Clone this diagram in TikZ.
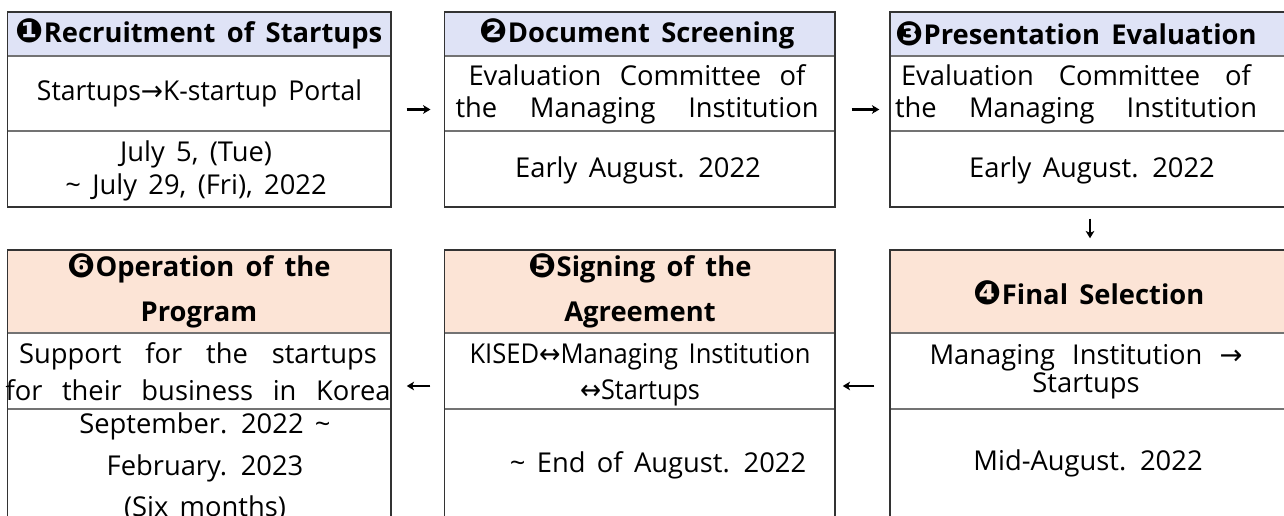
\documentclass[tikz,border=0pt]{standalone}
\usepackage{fontspec}
\usepackage{graphicx}
\setmainfont{Open Sans}[WordSpace=1.6]
\newfontfamily\sym{DejaVu Sans}
\usetikzlibrary{arrows.meta,fit}
\newdimen\pxu \pxu=0.75pt
\newcommand\fitl[2]{\resizebox{#1\pxu}{\height}{#2}}
\newcommand\jst[2]{\makebox[#1\pxu][s]{#2}}
\newcommand\cnum[1]{\raisebox{-0.5pt}{\sym\fontsize{25}{25}\selectfont #1}}
\definecolor{hdrblue}{HTML}{DFE3F6}
\definecolor{hdrpeach}{HTML}{FCE4D6}
\tikzset{
  frame/.style={draw=black!80, line width=1.1pt, inner sep=0pt},
  divider/.style={draw=black!55, line width=1pt},
  txt/.style={align=center, inner sep=0pt, font=\fontsize{20.5}{25}\selectfont},
  htxt/.style={align=center, inner sep=0pt, font=\fontsize{20.5}{25}\selectfont\bfseries},
  flow/.style={-{Stealth[length=5.5pt,width=6.5pt,inset=1.5pt]}, line width=1.6pt},
}
\begin{document}
\begin{tikzpicture}[x=0.75pt,y=-0.75pt]
\useasboundingbox (0,0) rectangle (1284,516);
\clip (0,0) rectangle (1284,516);
% header fills
\fill[hdrblue] (7.5,12) rectangle (391,56);
\fill[hdrblue] (444.5,12) rectangle (835,56);
\fill[hdrblue] (890,12) rectangle (1290,56);
\fill[hdrpeach] (7.5,250) rectangle (391,333);
\fill[hdrpeach] (444.5,250) rectangle (835,333);
\fill[hdrpeach] (890,250) rectangle (1290,333);
% dividers
\draw[divider] (7.5,56) -- (391,56) (7.5,131) -- (391,131);
\draw[divider] (444.5,56) -- (835,56) (444.5,131) -- (835,131);
\draw[divider] (890,56) -- (1290,56) (890,131) -- (1290,131);
\draw[divider] (7.5,333) -- (391,333) (7.5,409) -- (391,409);
\draw[divider] (444.5,333) -- (835,333) (444.5,409) -- (835,409);
\draw[divider] (890,333) -- (1290,333) (890,409) -- (1290,409);
% frames
\node[frame, fit={(7.5,12)(391,207)}] (b1) {};
\node[frame, fit={(444.5,12)(835,207)}] (b2) {};
\node[frame, fit={(890,12)(1290,207)}] (b3) {};
\node[frame, fit={(890,250)(1290,522)}] (b4) {};
\node[frame, fit={(444.5,250)(835,522)}] (b5) {};
\node[frame, fit={(7.5,250)(391,522)}] (b6) {};
% box 1
\node[htxt] (h1) at (199,34) {\cnum{❶}Recruitment of Startups};
\node[txt] (m1) at (199.5,93) {\fitl{325}{Startups{\sym →}K-startup Portal}};
\node[txt, font=\fontsize{20.5}{24.75}\selectfont] (d1) at (196,170.5) {July 5, (Tue)\\\textasciitilde{} July 29, (Fri), 2022};
% box 2
\node[htxt] (h2) at (637,34) {\cnum{❷}Document Screening};
\node[txt, font=\fontsize{20.5}{24}\selectfont] (m2) at (637,94) {\jst{337}{Evaluation Committee of}\\\jst{363}{the Managing Institution}};
\node[txt] (d2) at (638,170) {Early August. 2022};
% box 3
\node[htxt] (h3) at (1076,34) {\cnum{❸}Presentation Evaluation};
\node[txt, font=\fontsize{20.5}{24}\selectfont] (m3) at (1076,94) {\jst{350}{Evaluation Committee of}\\\jst{362}{the Managing Institution}};
\node[txt] (d3) at (1092,170) {Early August. 2022};
% box 4
\node[htxt] (h4) at (1089,293) {\cnum{❹}Final Selection};
\node[txt, font=\fontsize{20.5}{21}\selectfont] (m4) at (1086,372) {\jst{313}{Managing Institution {\sym →}}\\Startups};
\node[txt] (d4) at (1088,463) {Mid-August. 2022};
% box 5
\node[htxt, font=\fontsize{20.5}{33.75}\selectfont\bfseries] (h5) at (640,291) {\cnum{❺}Signing of the\\Agreement};
\node[txt, font=\fontsize{20.5}{27}\selectfont] (m5) at (640,375) {\fitl{341}{KISED{\sym ↔}Managing Institution}\\\fitl{120}{{\sym ↔}Startups}};
\node[txt] (d5) at (658,465) {\textasciitilde{} End of August. 2022};
% box 6
\node[htxt, font=\fontsize{20.5}{33.75}\selectfont\bfseries] (h6) at (199,291) {\cnum{❻}Operation of the\\Program};
\node[txt, font=\fontsize{20.5}{27.75}\selectfont] (m6) at (198,371.5) {\jst{358}{Support for the startups}\\\jst{385}{for their business in Korea}};
\node[txt, font=\fontsize{20.5}{31}\selectfont] (d6) at (205,467) {September. 2022 \textasciitilde\\February. 2023\\(Six months)};
% flow arrows
\draw[flow, shorten <=11.25pt, shorten >=10pt] (b1) -- (b2);
\draw[flow, shorten <=12pt, shorten >=7.5pt] (b2) -- (b3);
\draw[flow, shorten <=8.25pt, shorten >=8.25pt] (b3) -- (b4);
\draw[flow, shorten <=11.25pt, shorten >=5.25pt] (b4) -- (b5);
\draw[flow, shorten <=10pt, shorten >=11.25pt] (b5) -- (b6);
\end{tikzpicture}
\end{document}
